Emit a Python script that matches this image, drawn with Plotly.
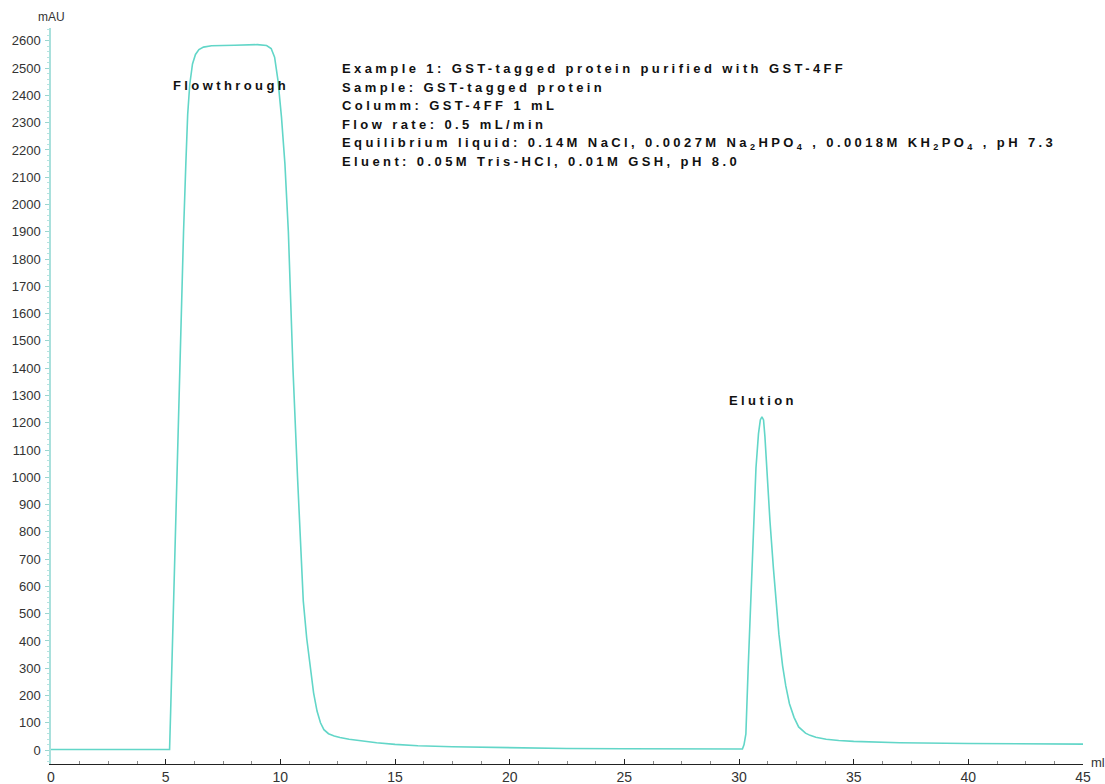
import plotly.graph_objects as go

# Chromatogram trace
volume_ml = [0, 5.17, 5.22, 5.3, 5.35, 5.45, 5.55, 5.67, 5.78, 5.88, 5.96, 6.05, 6.17, 6.3, 6.45,
             6.65, 7.0, 8.0, 9.0, 9.4, 9.6, 9.75, 9.9, 10.05, 10.2, 10.35, 10.55, 10.75, 11.0,
             11.15, 11.3, 11.45, 11.6, 11.75, 11.9, 12.1, 12.35, 12.6, 13.0, 13.5, 14.2, 15,
             16, 17.5, 20, 22.5, 25, 27.5, 30.15, 30.22, 30.3, 30.4, 30.52, 30.63, 30.74, 30.85,
             30.93, 31.0, 31.07, 31.13, 31.2, 31.35, 31.5, 31.62, 31.74, 31.9, 32.04, 32.2, 32.4,
             32.6, 32.8, 32.9, 33.1, 33.35, 33.8, 34.35, 35, 36, 37, 40, 42.5, 45]
absorbance_mau = [2, 2, 150, 400, 600, 900, 1250, 1600, 1900, 2150, 2330, 2440, 2515, 2550, 2568,
                  2577, 2582, 2584, 2586, 2583, 2572, 2540, 2453, 2320, 2149, 1900, 1400, 1000, 547,
                  410, 300, 210, 143, 100, 75, 60, 52, 46, 40, 34, 27, 21,
                  16, 12, 8, 6, 5, 4, 4, 20, 59, 300, 547, 800, 1034, 1160,
                  1210, 1222, 1210, 1150, 1034, 840, 667, 540, 425, 310, 235, 170, 120,
                  85, 68, 62, 54, 47, 40, 35, 32, 29, 27, 24, 23, 22]

x_ticks = [0, 5, 10, 15, 20, 25, 30, 35, 40, 45]
y_ticks = list(range(0, 2700, 100))

info_lines = [
    "Example 1: GST-tagged protein purified with GST-4FF",
    "Sample: GST-tagged protein",
    "Columm: GST-4FF 1 mL",
    "Flow rate: 0.5 mL/min",
    "Equilibrium liquid: 0.14M NaCl, 0.0027M Na<sub>2</sub>HPO<sub>4</sub> , 0.0018M KH<sub>2</sub>PO<sub>4</sub> , pH 7.3",
    "Eluent: 0.05M Tris-HCl, 0.01M GSH, pH 8.0",
]
info_y_px = [68, 87, 106, 124, 143, 161]
peak_labels = [("Flowthrough", 231, 86), ("Elution", 763, 400)]

# The page body margin is removed below, so the figure fills the window exactly.
W, H = 1105, 784
# plot area in window pixels: x 51..1083, y 28..764
L, R, T, B = 51, 1105 - 1083, 28, 784 - 764
PW, PH = W - L - R, H - T - B


def px_to_paper(px, py):
    return (px - L) / PW, (H - B - py) / PH


fig = go.Figure()
fig.add_trace(go.Scatter(x=volume_ml, y=absorbance_mau, mode="lines",
                         line=dict(color="#62d6c8", width=1.6),
                         hoverinfo="skip", showlegend=False))

fig.update_layout(
    width=W, height=H,
    margin=dict(l=L, r=R, t=T, b=B),
    plot_bgcolor="white", paper_bgcolor="white",
    font=dict(family="Arial, Liberation Sans", size=12, color="#333"),
    xaxis=dict(range=[0, 45], tickvals=x_ticks, ticktext=[str(v) for v in x_ticks],
               showline=True, linecolor="#222", linewidth=1, ticks="inside", ticklen=5,
               tickcolor="#222", showgrid=False, zeroline=False, automargin=False,
               minor=dict(dtick=1.25, ticks="inside", ticklen=3, tickcolor="#888"),
               tickfont=dict(size=14, color="#333")),
    yaxis=dict(range=[-51, 2647], tickvals=y_ticks, ticktext=[str(v) for v in y_ticks],
               showline=True, linecolor="#a9e0dc", linewidth=1.5, ticks="outside", ticklen=4,
               tickcolor="#9ad6d0", showgrid=False, zeroline=False, automargin=False,
               ticklabelstandoff=2,
               minor=dict(dtick=20, ticks="outside", ticklen=2, tickcolor="#b5e4e0"),
               tickfont=dict(size=13, color="#333")),
)

fig.add_annotation(xref="paper", yref="paper", x=0, y=1, yshift=11,
                   text="mAU", showarrow=False, xanchor="center", yanchor="middle",
                   font=dict(size=12, color="#333"))
fig.add_annotation(xref="paper", yref="paper", x=1, y=0, xshift=6, yshift=2,
                   text="ml", showarrow=False, xanchor="left", yanchor="middle",
                   font=dict(size=13, color="#333"))

SPACED = '<span style="letter-spacing:3.4px;font-size:13px">{}</span>'
for line, py in zip(info_lines, info_y_px):
    ax, ay = px_to_paper(340, py)
    fig.add_annotation(xref="paper", yref="paper", x=ax, y=ay, text=SPACED.format(line),
                       showarrow=False, xanchor="left", yanchor="middle", align="left",
                       font=dict(family="Arial, Liberation Sans", size=13, color="#111",
                                 weight="bold"))

for label, px, py in peak_labels:
    ax, ay = px_to_paper(px, py)
    fig.add_annotation(xref="paper", yref="paper", x=ax, y=ay, text=SPACED.format(label),
                       showarrow=False, xanchor="center", yanchor="middle",
                       font=dict(family="Arial, Liberation Sans", size=13, color="#111",
                                 weight="bold"))

fig.write_html("out.html", config={"displayModeBar": False},
               post_script="document.body.style.margin='0';document.body.style.overflow='hidden';")
